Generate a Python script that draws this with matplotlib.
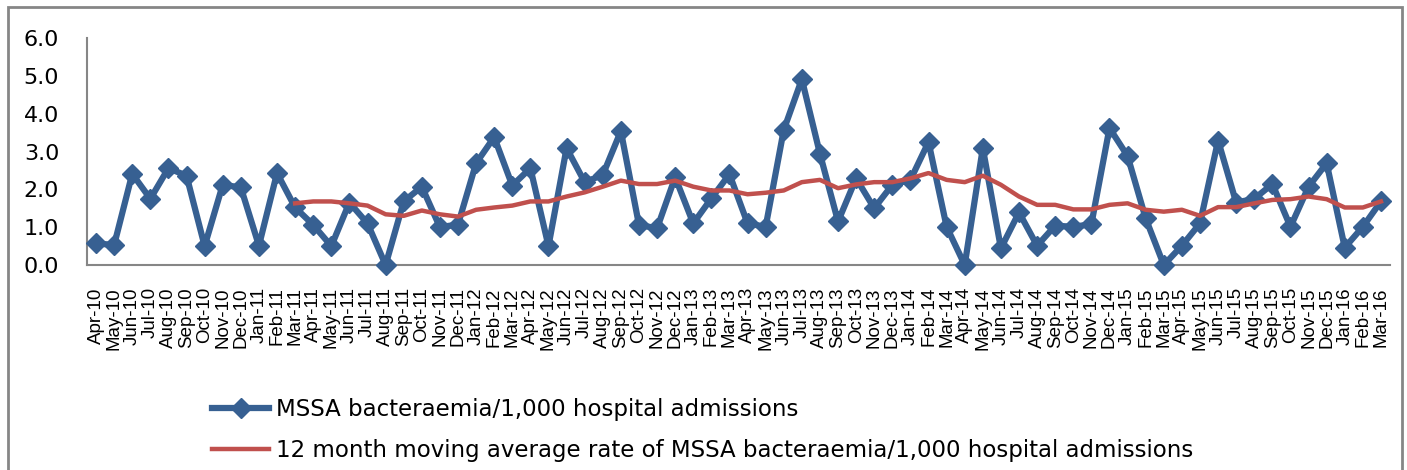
import matplotlib.pyplot as plt
from matplotlib.lines import Line2D
from matplotlib.patches import Rectangle

# Months Apr-10 .. Mar-16
months = ["Apr", "May", "Jun", "Jul", "Aug", "Sep", "Oct", "Nov", "Dec", "Jan", "Feb", "Mar"]
labels = []
for yr in range(10, 16):
    for m in months:
        y = yr if months.index(m) < 9 else yr + 1
        labels.append(f"{m}-{y}")

# MSSA bacteraemia rate per 1,000 admissions
rate = [0.57, 0.53, 2.41, 1.75, 2.56, 2.36, 0.50, 2.12, 2.05, 0.51, 2.43, 1.52,
        1.06, 0.50, 1.65, 1.10, 0.00, 1.68, 2.07, 1.00, 1.07, 2.69, 3.38, 2.10,
        2.56, 0.50, 3.09, 2.19, 2.38, 3.54, 1.06, 0.97, 2.32, 1.10, 1.76, 2.40,
        1.10, 1.01, 3.57, 4.91, 2.94, 1.15, 2.29, 1.50, 2.12, 2.25, 3.25, 1.01,
        0.00, 3.09, 0.44, 1.39, 0.51, 1.04, 1.01, 1.08, 3.62, 2.88, 1.23, 0.00,
        0.51, 1.10, 3.29, 1.65, 1.75, 2.14, 1.01, 2.07, 2.69, 0.46, 1.01, 1.68]

# 12 month moving average, starts at Mar-11
ma_start = 11
moving_avg = [1.63, 1.68, 1.68, 1.63, 1.57, 1.34, 1.30, 1.44, 1.34, 1.28, 1.46,
              1.52, 1.57, 1.68, 1.68, 1.81, 1.92, 2.07, 2.23, 2.14, 2.14, 2.23,
              2.07, 1.97, 1.97, 1.87, 1.91, 1.97, 2.19, 2.25, 2.03, 2.13, 2.19,
              2.19, 2.29, 2.43, 2.25, 2.19, 2.36, 2.12, 1.81, 1.59, 1.59, 1.47,
              1.47, 1.59, 1.63, 1.46, 1.41, 1.46, 1.30, 1.53, 1.53, 1.63, 1.72,
              1.74, 1.81, 1.74, 1.52, 1.52, 1.68]

blue = "#376092"
red = "#C0504D"
grey = "#868686"

fig = plt.figure(figsize=(14.07, 4.70), dpi=100)
ax = fig.add_axes([87 / 1407, 1 - 265 / 470, (1390 - 87) / 1407, (265 - 38) / 470])

x = list(range(len(rate)))
ax.plot(x, rate, color=blue, lw=4.5, marker="D", markersize=10.5, zorder=3)
ax.plot(range(ma_start, ma_start + len(moving_avg)), moving_avg, color=red, lw=3.2, zorder=4)

ax.set_xlim(-0.5, len(rate) - 0.5)
ax.set_ylim(0, 6)
ax.set_yticks([0, 1, 2, 3, 4, 5, 6])
ax.set_yticklabels([f"{v:.1f}" for v in range(7)], fontsize=16, family="DejaVu Sans")
ax.set_xticks(x)
ax.set_xticklabels(labels, rotation=90, fontsize=13.5, family="Liberation Sans", va="top")
ax.tick_params(axis="both", length=0)
ax.tick_params(axis="y", pad=20)
ax.tick_params(axis="x", pad=16)
for s in ["top", "right"]:
    ax.spines[s].set_visible(False)
for s in ["left", "bottom"]:
    ax.spines[s].set_color(grey)
    ax.spines[s].set_linewidth(1.5)
for ln in ax.lines:
    ln.set_clip_on(False)

# outer chart border
fig.patches.append(Rectangle((8 / 1407, -0.05), (1402 - 8) / 1407, 1 - 7 / 470 + 0.05,
                             transform=fig.transFigure, fill=False, edgecolor=grey, lw=2))

handles = [Line2D([], [], color=blue, lw=4.5, marker="D", markersize=10),
           Line2D([], [], color=red, lw=3.2)]
names = ["MSSA bacteraemia/1,000 hospital admissions",
         "12 month moving average rate of MSSA bacteraemia/1,000 hospital admissions"]
fig.legend(handles, names, loc="upper left", bbox_to_anchor=(212 / 1407, 1 - 398 / 470),
           frameon=False, prop={"family": "DejaVu Sans", "size": 16.5},
           handlelength=2.5, handletextpad=0.3, labelspacing=0.78, borderaxespad=0,
           borderpad=0)

fig.savefig("out.png", dpi=100)
